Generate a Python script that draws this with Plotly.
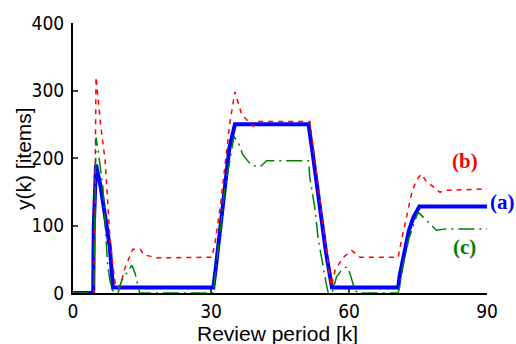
import plotly.graph_objects as go

# (a) blue
a_k = [0, 4.4, 4.5, 5, 6, 7, 8, 8.7, 30.5, 31, 32, 33, 34, 35.2, 51.2, 52, 53, 54, 55, 56.3, 70.7, 71, 72, 73, 74, 75.3, 90]
a_y = [0, 0, 95, 190, 158, 112, 68, 8, 8, 35, 95, 165, 215, 250, 250, 212, 160, 112, 60, 8, 8, 25, 62, 92, 112, 128, 128]

# (b) red
b_k = [0, 4.6, 5, 6, 7, 8, 8.5, 9.3, 10, 10.6, 11.3, 12.4, 13, 14.6, 15.5, 16.5, 18, 30.2, 30.9, 32, 33, 34.1, 35.2, 35.9, 36.7, 39.2, 40, 51.5, 52.5, 54, 55.5, 56.2, 57, 58.8, 60.6, 62.4, 70.7, 71.4, 72.2, 72.9, 73.6, 74.3, 75.1, 75.8, 76.9, 78, 79.8, 80.5, 90]
b_y = [0, 0, 320, 250, 195, 85, 50, 8, 8, 19, 37, 55, 65, 65, 56, 55, 52, 53, 75, 127, 191, 252, 298, 281, 264, 247, 254, 254, 200, 120, 40, 10, 35, 53, 63, 53, 53, 78, 102, 122, 147, 161, 171, 176, 164, 159, 149, 152, 154]

# (c) green
c_k = [0, 4.5, 5, 5.5, 6.5, 7, 7.5, 8, 8.5, 9, 9.8, 10.6, 11.7, 12.8, 13.5, 14, 14.5, 30.5, 31, 32, 33, 34.1, 35, 36, 36.9, 38.8, 40.7, 42.1, 51.2, 51.5, 52, 52.6, 53.3, 54, 54.5, 55, 55.5, 56.3, 57.3, 58.4, 59.5, 60.2, 60.9, 61.3, 62, 70.7, 72, 73, 74, 75, 79, 81, 90]
c_y = [0, 0, 230, 210, 156, 100, 45, 20, 5, 0, 0, 19, 31, 41, 29, 12, 0, 0, 30, 90, 155, 196, 232, 222, 205, 189, 187, 196, 196, 170, 150, 125, 80, 50, 35, 15, 0, 0, 24, 34, 39, 29, 14, 4, 0, 0, 50, 80, 100, 120, 93, 95, 95]

x_ticks = [0, 30, 60, 90]
y_ticks = [0, 100, 200, 300, 400]

fig = go.Figure()
fig.add_trace(go.Scatter(x=a_k, y=a_y, mode="lines", line=dict(color="#0000ff", width=4), showlegend=False))
fig.add_trace(go.Scatter(x=b_k, y=b_y, mode="lines", line=dict(color="#ff0000", width=1.5, dash="5px,5px"), showlegend=False))
fig.add_trace(go.Scatter(x=c_k, y=c_y, mode="lines", line=dict(color="#008000", width=1.5, dash="16px,5px,2px,5px"), showlegend=False))

tickfont = dict(family="Liberation Sans Narrow, DejaVu Sans Condensed, Liberation Sans, Arial", size=19, color="black")
titlefont = dict(family="Liberation Sans, Arial", size=21, color="black")
serif = "Liberation Serif, Times New Roman"
fig.update_layout(
    width=516, height=344,
    margin=dict(l=73, r=29, t=21, b=51),
    plot_bgcolor="white", paper_bgcolor="white",
    xaxis=dict(range=[0, 90], tickvals=x_ticks, ticks="inside", ticklen=5, tickwidth=1.5,
               showline=True, linecolor="black", linewidth=2, showgrid=False, zeroline=False,
               tickfont=tickfont, layer="below traces"),
    yaxis=dict(range=[0, 400], tickvals=y_ticks, ticks="inside", ticklen=5, tickwidth=1.5,
               showline=True, linecolor="black", linewidth=2, showgrid=False, zeroline=False,
               tickfont=tickfont, layer="below traces", ticklabelstandoff=3),
    annotations=[
        dict(x=0.493, y=-0.1485, xref="paper", yref="paper", text="Review period [k]", showarrow=False,
             xanchor="center", yanchor="middle", font=titlefont),
        dict(x=-0.1208, y=0.5, xref="paper", yref="paper", text="y(k) [items]", showarrow=False,
             xanchor="center", yanchor="middle", textangle=-90, font=titlefont),
        dict(x=1.0386, y=0.338, xref="paper", yref="paper", text="<b>(a)</b>", showarrow=False,
             xanchor="center", yanchor="middle",
             font=dict(family=serif, size=21, color="#0000ff")),
        dict(x=85.2, y=196, xref="x", yref="y", text="<b>(b)</b>", showarrow=False,
             font=dict(family=serif, size=21, color="#ff0000")),
        dict(x=85.2, y=68, xref="x", yref="y", text="<b>(c)</b>", showarrow=False,
             font=dict(family=serif, size=21, color="#008000")),
    ],
)
fig.write_html("out.html", config={"displayModeBar": False},
               post_script="document.body.style.margin='0';document.body.style.overflow='hidden';")
